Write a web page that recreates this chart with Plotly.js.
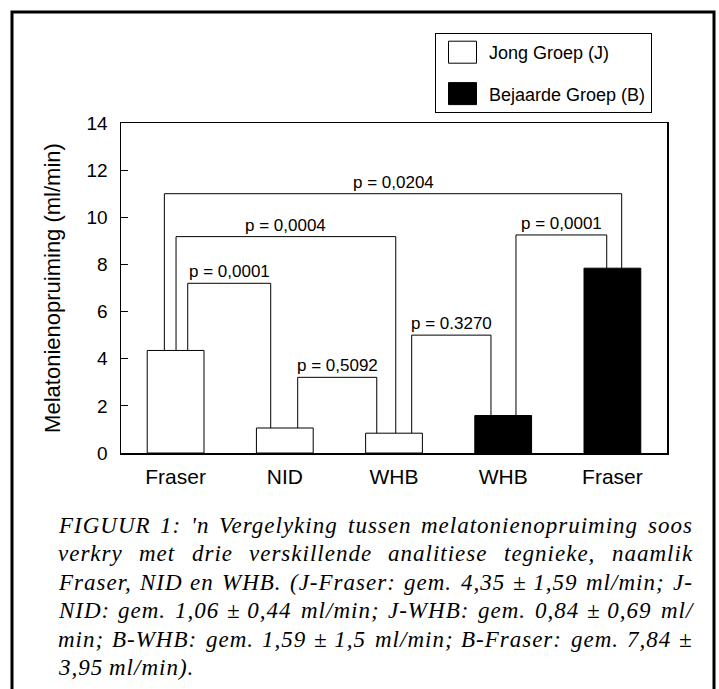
<!DOCTYPE html>
<html><head><meta charset="utf-8">
<script src="https://cdn.plot.ly/plotly-3.0.1.min.js"></script>
<style>html,body{margin:0;padding:0;background:#fff;} #chart{width:719px;height:689px;}</style>
</head><body><div id="chart"></div>
<script>
// ---------- DATA ----------
const categoryLabels = ['Fraser', 'NID', 'WHB', 'WHB', 'Fraser'];
const jongX = [0, 1, 2];
const jongValues = [4.35, 1.06, 0.84];
const bejaardeX = [3, 4];
const bejaardeValues = [1.59, 7.84];
const jongName = 'Jong Groep (J)';
const bejaardeName = 'Bejaarde Groep (B)';
const bracketFrom = [0, 0, 0, 1, 2, 3];
const bracketTo = [1, 2, 4, 2, 3, 4];
const bracketTop = [7.2, 9.18, 11.0, 3.21, 5.0, 9.25];
const bracketLabels = ['p = 0,0001', 'p = 0,0004', 'p = 0,0204', 'p = 0,5092', 'p = 0.3270', 'p = 0,0001'];
const yTickValues = [0, 2, 4, 6, 8, 10, 12, 14];
const yTitle = 'Melatonienopruiming (ml/min)';
const captionLines = [
  "FIGUUR 1: 'n Vergelyking tussen melatonienopruiming soos",
  "verkry met drie verskillende analitiese tegnieke, naamlik",
  "Fraser, NID en WHB. (J-Fraser: gem. 4,35 \u00b1\u00a01,59 ml/min; J-",
  "NID: gem. 1,06 \u00b1\u00a00,44 ml/min; J-WHB: gem. 0,84 \u00b1\u00a00,69 ml/",
  "min; B-WHB: gem. 1,59 \u00b1\u00a01,5 ml/min; B-Fraser: gem. 7,84 \u00b1",
  "3,95 ml/min)."
];

// ---------- LAYOUT GEOMETRY (pixels) ----------
const W = 719, H = 689;
const L = 121, R = 667, T = 123, B = 453;
const px2x = p => (p - L) / (R - L);
const py2y = p => (B - p) / (B - T);
const legOffsetLeft = [0.111, 0.004, -0.103, 0.118, 0.162, 0.117];
const legOffsetRight = [-0.129, 0.016, 0.085, -0.158, -0.112, -0.052];
const captionFontSize = 23;
const captionLetterSpacing = 1;
const captionLeft = 57, captionRight = 692, captionTop = 525, captionStep = 28.5;

const allX = jongX.concat(bejaardeX);
const allV = jongValues.concat(bejaardeValues);
const valueAt = i => allV[allX.indexOf(i)];

// brackets
const bx = [], by = [];
const annotations = [];
for (let k = 0; k < bracketFrom.length; k++) {
  const xl = bracketFrom[k] + legOffsetLeft[k];
  const xr = bracketTo[k] + legOffsetRight[k];
  bx.push(xl, xl, xr, xr, null);
  by.push(valueAt(bracketFrom[k]), bracketTop[k], bracketTop[k], valueAt(bracketTo[k]), null);
  annotations.push({
    x: (xl + xr) / 2, y: bracketTop[k], xref: 'x', yref: 'y',
    text: bracketLabels[k], showarrow: false, yanchor: 'bottom', yshift: 0,
    font: {family: 'Liberation Sans, Arial, sans-serif', size: 17, color: '#000'}
  });
}
const captionStart = annotations.length;

// caption: justified words
const cv = document.createElement('canvas').getContext('2d');
cv.font = 'italic ' + captionFontSize + 'px "Liberation Serif"';
const measure = s => cv.measureText(s).width + captionLetterSpacing * s.length;
captionLines.forEach((line, li) => {
  const words = line.split(' ');
  const widths = words.map(measure);
  const total = widths.reduce((a, b) => a + b, 0);
  const justify = li < captionLines.length - 1 && words.length > 1;
  const gap = justify ? (captionRight - captionLeft - total) / (words.length - 1) : measure(' ');
  let xpos = captionLeft;
  const ypx = captionTop + li * captionStep;
  words.forEach((w, wi) => {
    annotations.push({
      x: px2x(xpos), y: py2y(ypx), xref: 'paper', yref: 'paper',
      xanchor: 'left', yanchor: 'middle', align: 'left', showarrow: false, borderpad: 0,
      text: w,
      font: {family: 'Liberation Serif, Times New Roman, serif', size: captionFontSize, color: '#000', style: 'italic'}
    });
    xpos += widths[wi] + gap;
  });
});

const traces = [
  {type: 'bar', x: jongX, y: jongValues, name: jongName, width: 0.52, legendgroup: 'J',
   marker: {color: '#ffffff', line: {color: '#000', width: 1}}, hoverinfo: 'skip'},
  {type: 'bar', x: bejaardeX, y: bejaardeValues, name: bejaardeName, width: 0.52, legendgroup: 'B',
   marker: {color: '#000000', line: {color: '#000', width: 1}}, hoverinfo: 'skip'},
  {type: 'scatter', mode: 'lines', x: bx, y: by, showlegend: false, hoverinfo: 'skip',
   line: {color: '#000', width: 1}}
];

const layout = {
  width: W, height: H,
  margin: {l: L, r: W - R, t: T, b: H - B, pad: 0},
  paper_bgcolor: '#fff', plot_bgcolor: '#fff',
  font: {family: 'Liberation Sans, Arial, sans-serif', color: '#000'},
  barmode: 'overlay',
  showlegend: true,
  legend: {
    x: px2x(435), y: py2y(33), xanchor: 'left', yanchor: 'top',
    bordercolor: '#000', borderwidth: 1, bgcolor: '#fff',
    font: {size: 18, color: '#000'}, traceorder: 'grouped', tracegroupgap: 15,
    itemwidth: 43
  },
  xaxis: {
    range: [-0.5, 4.5], tickvals: allX, ticktext: categoryLabels,
    showline: true, linecolor: '#000', linewidth: 1.5, mirror: true,
    ticks: '', showgrid: false, zeroline: false, fixedrange: true,
    tickfont: {size: 21, color: '#000'}, ticklabelstandoff: 4
  },
  yaxis: {
    range: [0, 14], tickvals: yTickValues,
    showline: true, linecolor: '#000', linewidth: 1.5, mirror: true,
    ticks: 'inside', ticklen: 7, tickcolor: '#000', tickwidth: 1,
    showgrid: false, zeroline: false, fixedrange: true,
    tickfont: {size: 19, color: '#000'}, ticklabelstandoff: 8,
    title: {text: yTitle, font: {size: 22, color: '#000'}, standoff: 20}
  },
  shapes: [{
    type: 'path', xref: 'paper', yref: 'paper',
    path: 'M ' + px2x(12) + ',' + py2y(720) + ' L ' + px2x(12) + ',' + py2y(12) +
          ' L ' + px2x(714) + ',' + py2y(12) + ' L ' + px2x(714) + ',' + py2y(720),
    line: {color: '#000', width: 3}
  }],
  annotations: annotations
};

Plotly.newPlot('chart', traces, layout, {displayModeBar: false, staticPlot: true}).then(gd => {
  // caption letter spacing
  const texts = gd.querySelectorAll('.annotation-text');
  texts.forEach((t, i) => {
    if (i >= captionStart) t.style.letterSpacing = captionLetterSpacing + 'px';
  });
  // larger legend swatches
  gd.querySelectorAll('.legendpoints path').forEach(p => {
    p.setAttribute('d', 'M14,11H-14V-11H14Z');
  });
});
</script>
</body></html>
